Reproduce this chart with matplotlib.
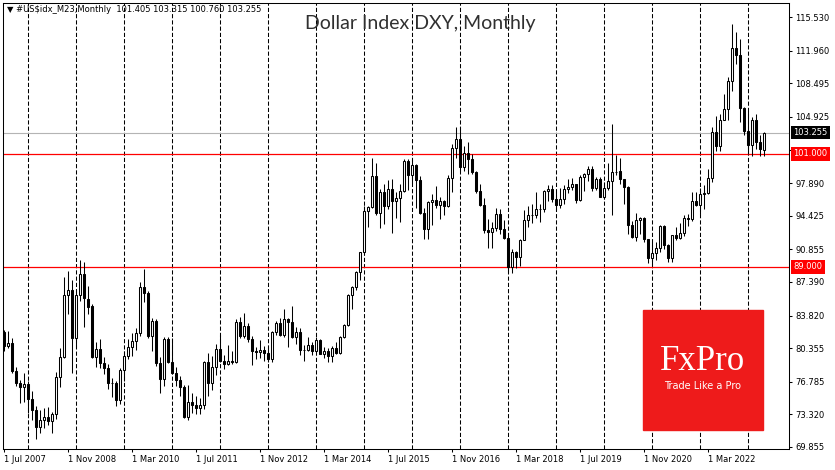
import numpy as np
import pandas as pd
import matplotlib
matplotlib.use("Agg")
import matplotlib.pyplot as plt
from matplotlib.patches import Rectangle

# monthly candles, Jul 2007 .. May 2023 (one line per year)
start_month = "2007-07-01"
opens = [
    82.1, 80.6, 80.9, 77.9, 76.6, 76.2,
    76.5, 75.0, 73.8, 72.0, 72.7, 73.0, 72.6, 73.4, 77.3, 79.4, 86.0, 86.5,
    81.4, 86.0, 88.2, 85.6, 84.8, 79.4, 80.3, 78.8, 78.2, 76.7, 76.6, 74.8,
    78.0, 79.5, 80.5, 81.1, 82.0, 86.8, 86.2, 81.6, 83.2, 78.8, 77.1, 81.3,
    78.9, 77.7, 77.0, 76.2, 73.0, 74.6, 74.3, 74.0, 74.3, 78.9, 76.7, 78.4,
    80.3, 79.0, 78.7, 79.0, 78.9, 83.1, 81.6, 82.7, 81.3, 80.1, 79.9, 80.2,
    79.8, 79.2, 82.1, 83.0, 81.8, 83.4, 83.1, 81.5, 82.1, 80.2, 80.2, 80.7,
    80.0, 81.2, 79.7, 80.1, 79.5, 80.4, 79.8, 81.5, 82.8, 86.0, 86.9, 88.4,
    90.6, 94.9, 95.3, 98.6, 94.7, 96.9, 95.5, 97.3, 96.0, 96.3, 97.0, 100.2,
    98.7, 99.8, 98.2, 94.7, 93.0, 95.9, 96.1, 95.6, 96.0, 95.5, 98.4, 101.6,
    102.6, 99.6, 101.1, 100.4, 99.1, 97.0, 95.6, 92.9, 92.7, 93.1, 94.6, 93.0,
    92.1, 89.0, 90.6, 90.0, 91.8, 94.0, 94.5, 94.5, 95.1, 95.1, 97.1, 97.3,
    96.2, 95.6, 96.2, 97.3, 97.5, 97.8, 96.1, 98.5, 98.9, 99.4, 97.4, 98.3,
    96.4, 97.4, 98.1, 99.1, 99.2, 98.3, 97.5, 93.4, 92.2, 94.0, 94.2, 92.0,
    89.9, 90.5, 91.0, 93.3, 91.3, 89.9, 92.4, 92.1, 92.6, 94.2, 94.1, 96.0,
    95.6, 96.7, 96.8, 98.4, 103.3, 101.8, 104.6, 105.8, 108.7, 112.2, 111.5, 105.9,
    103.4, 101.9, 104.6, 102.3, 101.405,
]
highs = [
    82.3, 82.2, 81.4, 78.4, 77.0, 77.7,
    76.9, 75.8, 74.2, 73.8, 74.0, 74.1, 73.6, 77.8, 80.4, 87.9, 88.5, 87.6,
    86.6, 89.7, 89.5, 87.0, 85.0, 81.0, 81.3, 79.4, 78.7, 77.2, 76.9, 78.2,
    80.1, 81.3, 82.0, 82.5, 87.4, 88.8, 86.4, 83.6, 83.4, 79.4, 81.5, 81.5,
    81.4, 78.3, 77.4, 76.4, 76.4, 75.6, 75.3, 75.1, 79.0, 79.8, 79.5, 80.8,
    81.8, 79.6, 80.7, 80.0, 83.5, 83.7, 84.1, 83.0, 81.6, 80.5, 81.2, 80.6,
    80.5, 82.2, 83.2, 83.6, 84.5, 83.6, 84.8, 82.6, 82.5, 80.7, 81.5, 81.0,
    81.5, 81.3, 80.5, 80.4, 80.6, 81.0, 81.6, 82.9, 86.1, 87.0, 88.5, 90.5,
    95.5, 95.5, 100.6, 100.0, 97.3, 97.8, 98.2, 98.3, 96.9, 97.8, 100.5, 100.5,
    100.5, 99.9, 98.6, 95.2, 96.0, 96.7, 97.6, 96.4, 96.1, 98.7, 102.0, 103.8,
    103.8, 101.8, 102.3, 101.0, 99.2, 97.8, 96.3, 94.1, 93.8, 95.2, 95.1, 94.0,
    92.6, 90.9, 90.7, 91.9, 95.0, 95.5, 95.7, 96.9, 95.7, 97.2, 97.7, 97.7,
    96.9, 97.4, 97.7, 98.3, 98.4, 97.8, 98.7, 99.0, 99.7, 99.7, 98.5, 98.5,
    98.0, 100.0, 104.2, 100.9, 100.6, 98.3, 97.6, 93.9, 94.7, 94.3, 94.3, 92.0,
    91.6, 91.6, 93.4, 93.4, 91.4, 92.4, 93.2, 93.7, 94.5, 94.6, 96.9, 96.9,
    97.4, 97.7, 99.4, 103.9, 105.0, 105.2, 107.4, 109.2, 114.8, 113.9, 113.2, 106.0,
    105.5, 104.9, 105.2, 103.0, 103.315,
]
lows = [
    80.0, 80.4, 77.7, 76.3, 74.5, 74.6,
    73.5, 72.7, 70.7, 71.3, 71.9, 72.2, 71.3, 72.8, 76.2, 79.3, 84.0, 77.7,
    80.4, 85.4, 82.6, 84.0, 79.3, 78.3, 78.2, 77.6, 76.0, 75.2, 74.2, 74.4,
    76.9, 79.2, 79.5, 80.2, 81.6, 85.3, 81.4, 80.1, 78.5, 75.6, 76.3, 78.8,
    77.6, 76.3, 75.3, 72.9, 72.7, 73.5, 73.4, 73.4, 73.9, 75.3, 75.9, 77.5,
    78.9, 78.1, 78.6, 78.7, 78.8, 81.4, 81.4, 81.0, 78.6, 79.2, 79.3, 79.0,
    78.9, 78.9, 81.7, 81.6, 81.5, 80.5, 81.4, 80.8, 79.6, 79.0, 80.0, 79.6,
    80.0, 79.7, 79.3, 78.9, 78.9, 79.7, 79.7, 81.4, 82.7, 84.5, 86.5, 87.6,
    90.3, 93.2, 95.2, 94.5, 93.1, 93.5, 95.1, 92.6, 94.2, 93.8, 96.9, 97.2,
    97.9, 95.2, 94.6, 91.9, 91.9, 93.4, 95.2, 94.1, 94.5, 95.3, 96.9, 100.6,
    99.2, 99.2, 98.9, 98.9, 96.8, 95.5, 92.6, 91.0, 91.0, 92.8, 92.5, 91.9,
    88.4, 88.3, 88.9, 89.1, 91.8, 93.2, 93.7, 94.2, 93.8, 94.8, 96.0, 95.9,
    95.0, 95.2, 95.7, 96.8, 97.2, 95.8, 96.0, 97.1, 98.1, 97.1, 97.2, 96.4,
    96.2, 97.2, 94.5, 98.8, 97.8, 95.7, 92.5, 92.1, 91.7, 92.5, 91.6, 89.4,
    89.2, 89.7, 90.6, 90.9, 89.5, 89.5, 91.8, 92.0, 92.3, 93.3, 93.9, 95.5,
    94.6, 95.1, 96.7, 98.0, 101.3, 101.3, 104.6, 104.6, 107.7, 110.5, 104.4, 103.0,
    101.0, 100.8, 101.5, 100.8, 100.760,
]
closes = [
    80.6, 80.9, 77.9, 76.6, 76.2, 76.5,
    75.0, 73.8, 72.0, 72.7, 73.0, 72.6, 73.4, 77.3, 79.4, 86.0, 86.5, 81.4,
    86.0, 88.2, 85.7, 84.7, 79.4, 80.3, 78.8, 78.2, 76.7, 76.6, 74.8, 78.0,
    79.5, 80.5, 81.1, 82.0, 86.8, 86.2, 81.6, 83.2, 78.8, 77.1, 81.3, 78.9,
    77.7, 77.0, 76.2, 73.0, 74.6, 74.3, 74.0, 74.3, 78.9, 76.7, 78.4, 80.3,
    79.0, 78.7, 79.0, 78.9, 83.1, 81.6, 82.7, 81.3, 80.1, 79.9, 80.2, 79.8,
    79.2, 82.1, 83.0, 81.8, 83.4, 83.1, 81.5, 82.1, 80.2, 80.2, 80.7, 80.0,
    81.2, 79.7, 80.1, 79.5, 80.4, 79.8, 81.5, 82.8, 86.0, 86.9, 88.4, 90.6,
    94.9, 95.3, 98.6, 94.7, 96.9, 95.5, 97.3, 96.0, 96.3, 97.0, 100.2, 98.7,
    99.8, 98.2, 94.7, 93.0, 95.9, 96.1, 95.6, 96.0, 95.5, 98.4, 101.6, 102.6,
    99.6, 101.1, 100.4, 99.1, 97.0, 95.6, 92.9, 92.7, 93.1, 94.6, 93.0, 92.1,
    89.0, 90.6, 90.0, 91.8, 94.0, 94.5, 94.5, 95.1, 95.1, 97.1, 97.3, 96.2,
    95.6, 96.2, 97.3, 97.5, 97.8, 96.1, 98.5, 98.9, 99.4, 97.4, 98.3, 96.4,
    97.4, 98.1, 99.1, 99.1, 98.3, 97.5, 93.4, 92.2, 94.0, 94.2, 92.0, 89.9,
    90.5, 91.0, 93.3, 91.3, 89.9, 92.4, 92.1, 92.6, 94.2, 94.1, 96.0, 95.6,
    96.7, 96.8, 98.4, 103.3, 101.8, 104.6, 105.8, 108.7, 112.2, 111.5, 105.9, 103.4,
    101.9, 104.6, 102.3, 101.5, 103.255,
]

date_labels = ["1 Jul 2007", "1 Nov 2008", "1 Mar 2010", "1 Jul 2011", "1 Nov 2012",
               "1 Mar 2014", "1 Jul 2015", "1 Nov 2016", "1 Mar 2018", "1 Jul 2019",
               "1 Nov 2020", "1 Mar 2022"]
price_ticks = [69.855, 73.320, 76.785, 80.355, 83.820, 87.390, 90.855, 94.425,
               97.890, 101.355, 104.925, 108.495, 111.960, 115.530]
levels = [101.0, 89.0]
last_price = 103.255
header = "\u25bc #US\\$idx_M23,Monthly  101.405 103.315 100.760 103.255"
title = "Dollar Index DXY, Monthly"

plt.rcParams['font.family'] = 'DejaVu Sans'

o = np.array(opens)
h = np.array(highs)
l = np.array(lows)
c = np.array(closes)
dates = pd.date_range(start_month, periods=len(o), freq="MS")
x = np.arange(len(dates))

W, H = 835, 470
fig = plt.figure(figsize=(W / 100, H / 100), dpi=100)
ax = fig.add_axes([2.5 / W, 1 - 449 / H, (789 - 2.5) / W, (449 - 3) / H])

# candles
up = c >= o
ax.vlines(x, l, h, color='black', lw=0.75, zorder=3)
ax.bar(x[up], (c - o)[up], bottom=o[up], width=0.5, color='white',
       edgecolor='black', lw=0.75, zorder=4)
ax.bar(x[~up], (o - c)[~up], bottom=c[~up], width=0.5, color='black',
       edgecolor='black', lw=0.75, zorder=4)

# yearly dashed separators
for xi in x[dates.month == 1]:
    ax.axvline(xi, color='black', lw=0.75, dashes=(4, 2), zorder=1)

for lv in levels:
    ax.axhline(lv, color='#ff0000', lw=0.9, zorder=2)
ax.axhline(last_price, color='#b4b4b4', lw=0.8, zorder=2)

ax.set_xlim(-0.32, 196.3)
ax.set_ylim(69.64, 117.02)

tick_pos = dates.get_indexer(pd.to_datetime(date_labels, format="%d %b %Y"))
ax.set_xticks(tick_pos, date_labels)
for t in ax.get_xticklabels():
    t.set_horizontalalignment('left')
ax.yaxis.tick_right()
ax.set_yticks(price_ticks, [f"{v:.3f}" for v in price_ticks])
ax.tick_params(axis='x', direction='out', length=2.5, width=0.75, pad=2, labelsize=6)
ax.tick_params(axis='y', direction='out', length=2.5, width=0.75, pad=2, labelsize=6)
for s in ax.spines.values():
    s.set_linewidth(0.75)
    s.set_color('black')


def price_box(val, fc):
    ax.annotate(f"{val:.3f}", xy=(1, val), xycoords=('axes fraction', 'data'),
                xytext=(3, 0), textcoords='offset points', ha='left', va='center',
                fontsize=6, color='white', annotation_clip=False, zorder=10,
                bbox=dict(boxstyle='square,pad=0.28', fc=fc, ec='none'))


price_box(last_price, 'black')
for lv in levels:
    price_box(lv, '#ff0000')

fig.text(7 / W, 1 - 9 / H, header, fontsize=6, va='center', ha='left', color='black')
fig.text(420 / W, 1 - 24 / H, title, fontsize=14, va='center', ha='center',
         color='#303030', family=['Lato', 'DejaVu Sans'])

# FxPro badge
fig.add_artist(Rectangle((643 / W, 1 - 430 / H), 120 / W, 120 / H,
                         transform=fig.transFigure, color='#ee1b1b', zorder=5))
fig.text(703 / W, 1 - 362 / H, "FxPro", fontsize=25, color='white', ha='center',
         va='center', family=['Liberation Serif', 'DejaVu Serif'], zorder=6)
fig.text(703 / W, 1 - 386 / H, "Trade Like a Pro", fontsize=7, color='white',
         ha='center', va='center', zorder=6)

fig.savefig("out.png", dpi=100)
